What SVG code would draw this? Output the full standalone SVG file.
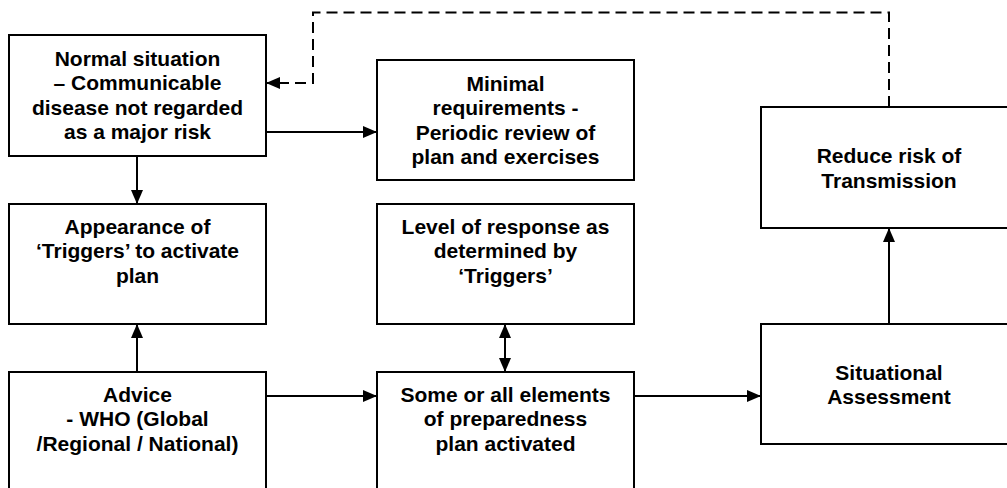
<svg xmlns="http://www.w3.org/2000/svg" width="1007" height="488" viewBox="0 0 1007 488">
<style>
.box{fill:#fff;stroke:#000;stroke-width:2}
.t{font-family:"Liberation Sans",Arial,sans-serif;font-weight:bold;font-size:21px;text-anchor:middle;fill:#000}
.c{fill:none;stroke:#000;stroke-width:2}
.d{fill:none;stroke:#000;stroke-width:2;stroke-dasharray:11 6}
</style>
<defs>
<marker id="ah" markerUnits="userSpaceOnUse" markerWidth="16" markerHeight="14" refX="14" refY="7" orient="auto-start-reverse">
<path d="M0,1 L14,7 L0,13 Z" fill="#000"/>
</marker>
</defs>
<rect width="1007" height="488" fill="#fff"/>
<g id="connectors">
<path class="c" d="M137,156 L137,204" marker-end="url(#ah)"/>
<path class="c" d="M266,132 L377,132" marker-end="url(#ah)"/>
<path class="c" d="M137,372 L137,324" marker-end="url(#ah)"/>
<path class="c" d="M266,396 L377,396" marker-end="url(#ah)"/>
<path class="c" d="M505,324 L505,372" marker-start="url(#ah)" marker-end="url(#ah)"/>
<path class="c" d="M634,396 L761,396" marker-end="url(#ah)"/>
<path class="c" d="M889,324 L889,228" marker-end="url(#ah)"/>
<path class="d" d="M889,107 L889,12.5 L313,12.5 L313,83 L266,83" marker-end="url(#ah)"/>
</g>
<g id="n_normal">
<rect class="box" x="9" y="35" width="257" height="121"/>
<text class="t" x="137.5" y="65.7">Normal situation</text>
<text class="t" x="137.5" y="90.2">– Communicable</text>
<text class="t" x="137.5" y="114.7">disease not regarded</text>
<text class="t" x="137.5" y="139.2">as a major risk</text>
</g>
<g id="n_minimal">
<rect class="box" x="377" y="60" width="257" height="120"/>
<text class="t" x="505.5" y="90.7">Minimal</text>
<text class="t" x="505.5" y="115.2">requirements -</text>
<text class="t" x="505.5" y="139.7">Periodic review of</text>
<text class="t" x="505.5" y="164.2">plan and exercises</text>
</g>
<g id="n_reduce">
<rect class="box" x="761" y="107" width="256" height="121"/>
<text class="t" x="889" y="163.3">Reduce risk of</text>
<text class="t" x="889" y="187.8">Transmission</text>
</g>
<g id="n_appearance">
<rect class="box" x="9" y="204" width="257" height="120"/>
<text class="t" x="137.5" y="233.5">Appearance of</text>
<text class="t" x="137.5" y="258">‘Triggers’ to activate</text>
<text class="t" x="137.5" y="282.5">plan</text>
</g>
<g id="n_level">
<rect class="box" x="377" y="204" width="257" height="120"/>
<text class="t" x="505.5" y="233.5">Level of response as</text>
<text class="t" x="505.5" y="258">determined by</text>
<text class="t" x="505.5" y="282.5">‘Triggers’</text>
</g>
<g id="n_advice">
<rect class="box" x="9" y="372" width="257" height="120"/>
<text class="t" x="137.5" y="401.7">Advice</text>
<text class="t" x="137.5" y="426.2">- WHO (Global</text>
<text class="t" x="137.5" y="450.7">/Regional / National)</text>
</g>
<g id="n_some">
<rect class="box" x="377" y="372" width="257" height="120"/>
<text class="t" x="505.5" y="401.7">Some or all elements</text>
<text class="t" x="505.5" y="426.2">of preparedness</text>
<text class="t" x="505.5" y="450.7">plan activated</text>
</g>
<g id="n_situational">
<rect class="box" x="761" y="324" width="256" height="120"/>
<text class="t" x="889" y="379.5">Situational</text>
<text class="t" x="889" y="404">Assessment</text>
</g>
</svg>
